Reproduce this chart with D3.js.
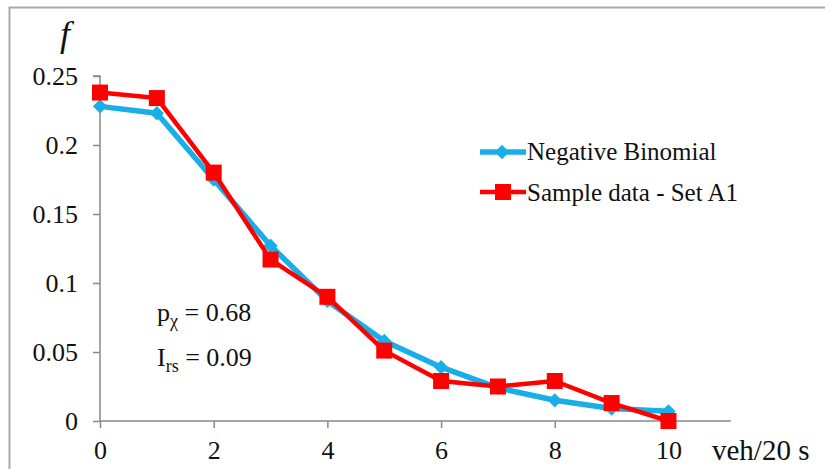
<!DOCTYPE html>
<html>
<head>
<meta charset="utf-8">
<title>frequency</title>
<script src="https://d3js.org/d3.v7.min.js"></script>
<style>
  body { margin: 0; background: #fff; }
</style>
</head>
<body>
<div id="chart"></div>
<script>
// data
var counts = [0, 1, 2, 3, 4, 5, 6, 7, 8, 9, 10];
var negBinomial = [0.228, 0.223, 0.175, 0.127, 0.087, 0.058, 0.039, 0.024, 0.015, 0.009, 0.007];
var sampleA1 = [0.238, 0.234, 0.180, 0.117, 0.090, 0.051, 0.029, 0.025, 0.029, 0.013, 0.000];
var xTicks = [0, 2, 4, 6, 8, 10];
var yTicks = [0, 0.05, 0.1, 0.15, 0.2, 0.25];
var seriesNames = ["Negative Binomial", "Sample data - Set A1"];

var width = 825, height = 469;
var serif = "'Liberation Serif', 'Times New Roman', serif";

var svg = d3.select("#chart").append("svg")
  .attr("width", width)
  .attr("height", height)
  .attr("font-family", serif);

// frame (only top and left edges visible)
svg.append("path")
  .attr("d", "M9.5,469 V7.5 H825")
  .attr("fill", "none")
  .attr("stroke", "#aaa")
  .attr("stroke-width", 2);

var x = d3.scaleLinear().domain([0, 11.1]).range([100, 731]);
var y = d3.scaleLinear().domain([0, 0.25]).range([421, 76]);

var gx = svg.append("g")
  .attr("transform", "translate(0," + y(0) + ")")
  .call(d3.axisBottom(x).tickValues(xTicks).tickSize(7).tickPadding(13).tickFormat(d3.format("d")));
var gy = svg.append("g")
  .attr("transform", "translate(" + x(0) + ",0)")
  .call(d3.axisLeft(y).tickValues(yTicks).tickSize(7).tickPadding(15).tickFormat(function(d) { return d === 0 ? "0" : String(+d.toFixed(2)); }));

[gx, gy].forEach(function(g) {
  g.attr("font-family", serif).attr("font-size", 26);
  g.selectAll("path.domain").attr("stroke", "#888").attr("stroke-width", 1.5);
  g.selectAll(".tick line").attr("stroke", "#888").attr("stroke-width", 1.5);
  g.selectAll(".tick text").attr("fill", "#111");
});
gy.select("path.domain").attr("d", "M-7," + y(0.25) + "H0V" + y(0));
gx.select("path.domain").attr("d", "M" + x(0) + ",0H" + x(11.1));

var line = d3.line()
  .x(function(d, i) { return x(counts[i]); })
  .y(function(d) { return y(d); });

var blue = "#1aaee8", red = "#ff0000";

// Negative binomial
svg.append("path").datum(negBinomial)
  .attr("d", line).attr("fill", "none")
  .attr("stroke", blue).attr("stroke-width", 5.5).attr("stroke-linejoin", "round");
svg.selectAll(".nb").data(negBinomial).enter().append("path")
  .attr("class", "nb")
  .attr("transform", function(d, i) { return "translate(" + x(counts[i]) + "," + y(d) + ")"; })
  .attr("d", d3.symbol().type(d3.symbolDiamond2).size(130))
  .attr("fill", blue);

// Sample data
svg.append("path").datum(sampleA1)
  .attr("d", line).attr("fill", "none")
  .attr("stroke", red).attr("stroke-width", 4.5).attr("stroke-linejoin", "round");
svg.selectAll(".sa").data(sampleA1).enter().append("rect")
  .attr("class", "sa")
  .attr("x", function(d, i) { return x(counts[i]) - 8; })
  .attr("y", function(d) { return y(d) - 8; })
  .attr("width", 16).attr("height", 16)
  .attr("fill", red);

// legend
var legend = svg.append("g").attr("transform", "translate(480,152)").attr("font-size", 25).attr("fill", "#111");
legend.append("line").attr("x1", 0).attr("x2", 46).attr("y1", 0).attr("y2", 0)
  .attr("stroke", blue).attr("stroke-width", 5.5);
legend.append("path").attr("transform", "translate(22,0)")
  .attr("d", d3.symbol().type(d3.symbolDiamond2).size(130)).attr("fill", blue);
legend.append("text").attr("x", 47).attr("y", 8).text(seriesNames[0]);

legend.append("line").attr("x1", 0).attr("x2", 46).attr("y1", 40).attr("y2", 40)
  .attr("stroke", red).attr("stroke-width", 4.5);
legend.append("rect").attr("x", 15).attr("y", 32).attr("width", 16).attr("height", 16).attr("fill", red);
legend.append("text").attr("x", 47).attr("y", 49).text(seriesNames[1]);

// annotations
svg.append("text").attr("x", 60).attr("y", 46).attr("fill", "#111")
  .attr("font-size", 36).attr("font-style", "italic").text("f");

var p = svg.append("text").attr("x", 157).attr("y", 321).attr("font-size", 26).attr("fill", "#111");
p.append("tspan").text("p");
p.append("tspan").attr("dy", 6).attr("font-size", 18).text("χ");
p.append("tspan").attr("dy", -6).attr("font-size", 26).text(" = 0.68");

var ir = svg.append("text").attr("x", 157).attr("y", 366).attr("font-size", 26).attr("fill", "#111");
ir.append("tspan").text("I");
ir.append("tspan").attr("dy", 6).attr("font-size", 18).text("rs");
ir.append("tspan").attr("dy", -6).attr("font-size", 26).text(" = 0.09");

svg.append("text").attr("x", 712).attr("y", 460).attr("font-size", 29).attr("fill", "#111").text("veh/20 s");
</script>
</body>
</html>
